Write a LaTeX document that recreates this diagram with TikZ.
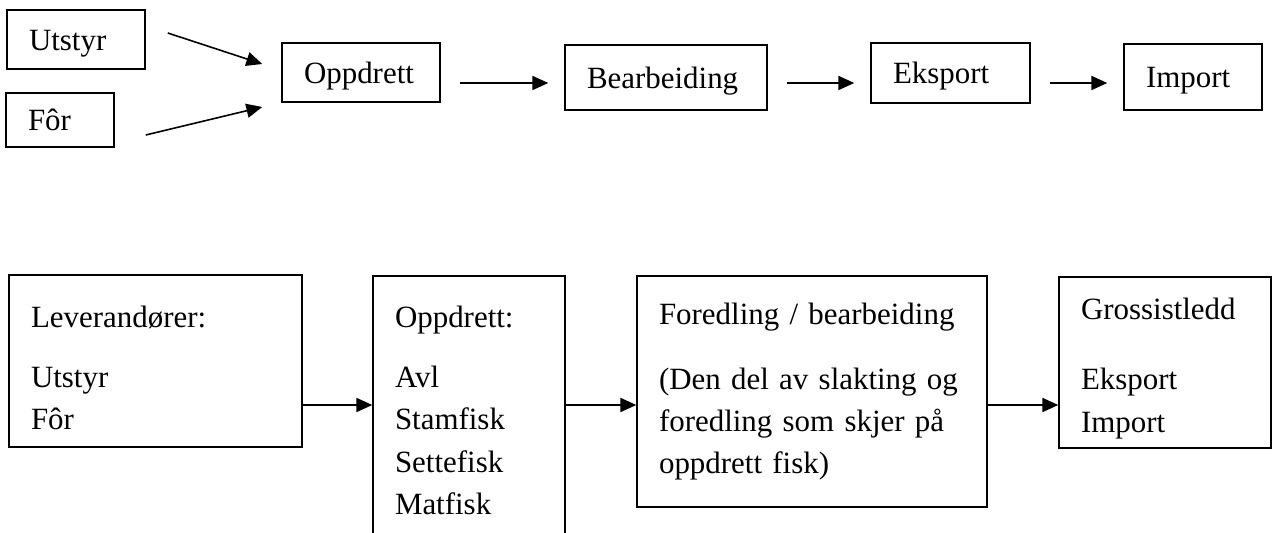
\documentclass[tikz,border=0pt]{standalone}
\usepackage{fontspec}
\setmainfont{Liberation Serif}
\usetikzlibrary{arrows.meta}

\begin{document}
\begin{tikzpicture}[x=0.02cm, y=-0.02cm]
    \tikzstyle{every node} = [font=\fontsize{17.6}{24}\selectfont]
    \tikzstyle{boks} = [draw, line width=0.9pt, align=left, inner xsep=0.44cm, inner ysep=0pt]
    \tikzstyle{enkel} = [boks, text height=14pt, text depth=2pt]
    \tikzstyle{pil} = [line width=0.9pt, -{Triangle[length=9pt, width=8pt]}]

    \useasboundingbox (0, 0) rectangle (1274, 533);
    \clip (0, 0) rectangle (1274, 533);

    \node [enkel, text width=1.88cm, minimum height=1.18cm] (utstyr) at (76, 39.5) {Utstyr};
    \node [enkel, text width=1.28cm, minimum height=1.08cm] (foer) at (60, 120) {Fôr};
    \node [enkel, text width=2.28cm, minimum height=1.18cm] (oppdrett) at (361, 72.5) {Oppdrett};
    \node [enkel, text width=3.16cm, minimum height=1.30cm] (bearbeiding) at (666, 77.5) {Bearbeiding};
    \node [enkel, text width=2.30cm, minimum height=1.20cm] (eksport) at (950.5, 73) {Eksport};
    \node [enkel, text width=1.88cm, minimum height=1.32cm] (import) at (1193, 77) {Import};

    \draw [pil] ([shift={(22, -6.5)}]utstyr.east) -- ([shift={(-19, -8.5)}]oppdrett.west);
    \draw [pil] ([shift={(31, 15)}]foer.east) -- ([shift={(-19, 34.5)}]oppdrett.west);

    \coordinate (rad1) at (0, 83);
    \foreach \a/\b in {oppdrett/bearbeiding, bearbeiding/eksport, eksport/import}
      \draw [pil, shorten <=0.38cm, shorten >=0.32cm] (\a.east |- rad1) -- (\b.west |- rad1);

    \node [boks, text width=4.98cm, minimum height=3.44cm] (leverandorer) at (155.5, 361)
      {\rule{0pt}{20pt}Leverandører:\\[10pt] Utstyr\\ Fôr};
    \node [boks, text width=2.96cm, minimum height=5.38cm] (oppdrett2) at (469, 410.5)
      {Oppdrett:\\[10pt] Avl\\ Stamfisk\\ Settefisk\\ Matfisk};
    \node [boks, text width=6.12cm, minimum height=4.62cm] (foredling) at (812, 391.5)
      {Foredling / bearbeiding\\[13pt] (Den del av slakting og\\ foredling som skjer på\\ oppdrett fisk)};
    \node [boks, text width=3.36cm, minimum height=3.42cm] (grossist) at (1165, 362.5)
      {\rule{0pt}{19pt}Grossistledd\\[16pt] Eksport\\ Import};

    \coordinate (rad2) at (0, 405);
    \foreach \a/\b in {leverandorer/oppdrett2, oppdrett2/foredling, foredling/grossist}
      \draw [pil] (\a.east |- rad2) -- (\b.west |- rad2);
\end{tikzpicture}
\end{document}
